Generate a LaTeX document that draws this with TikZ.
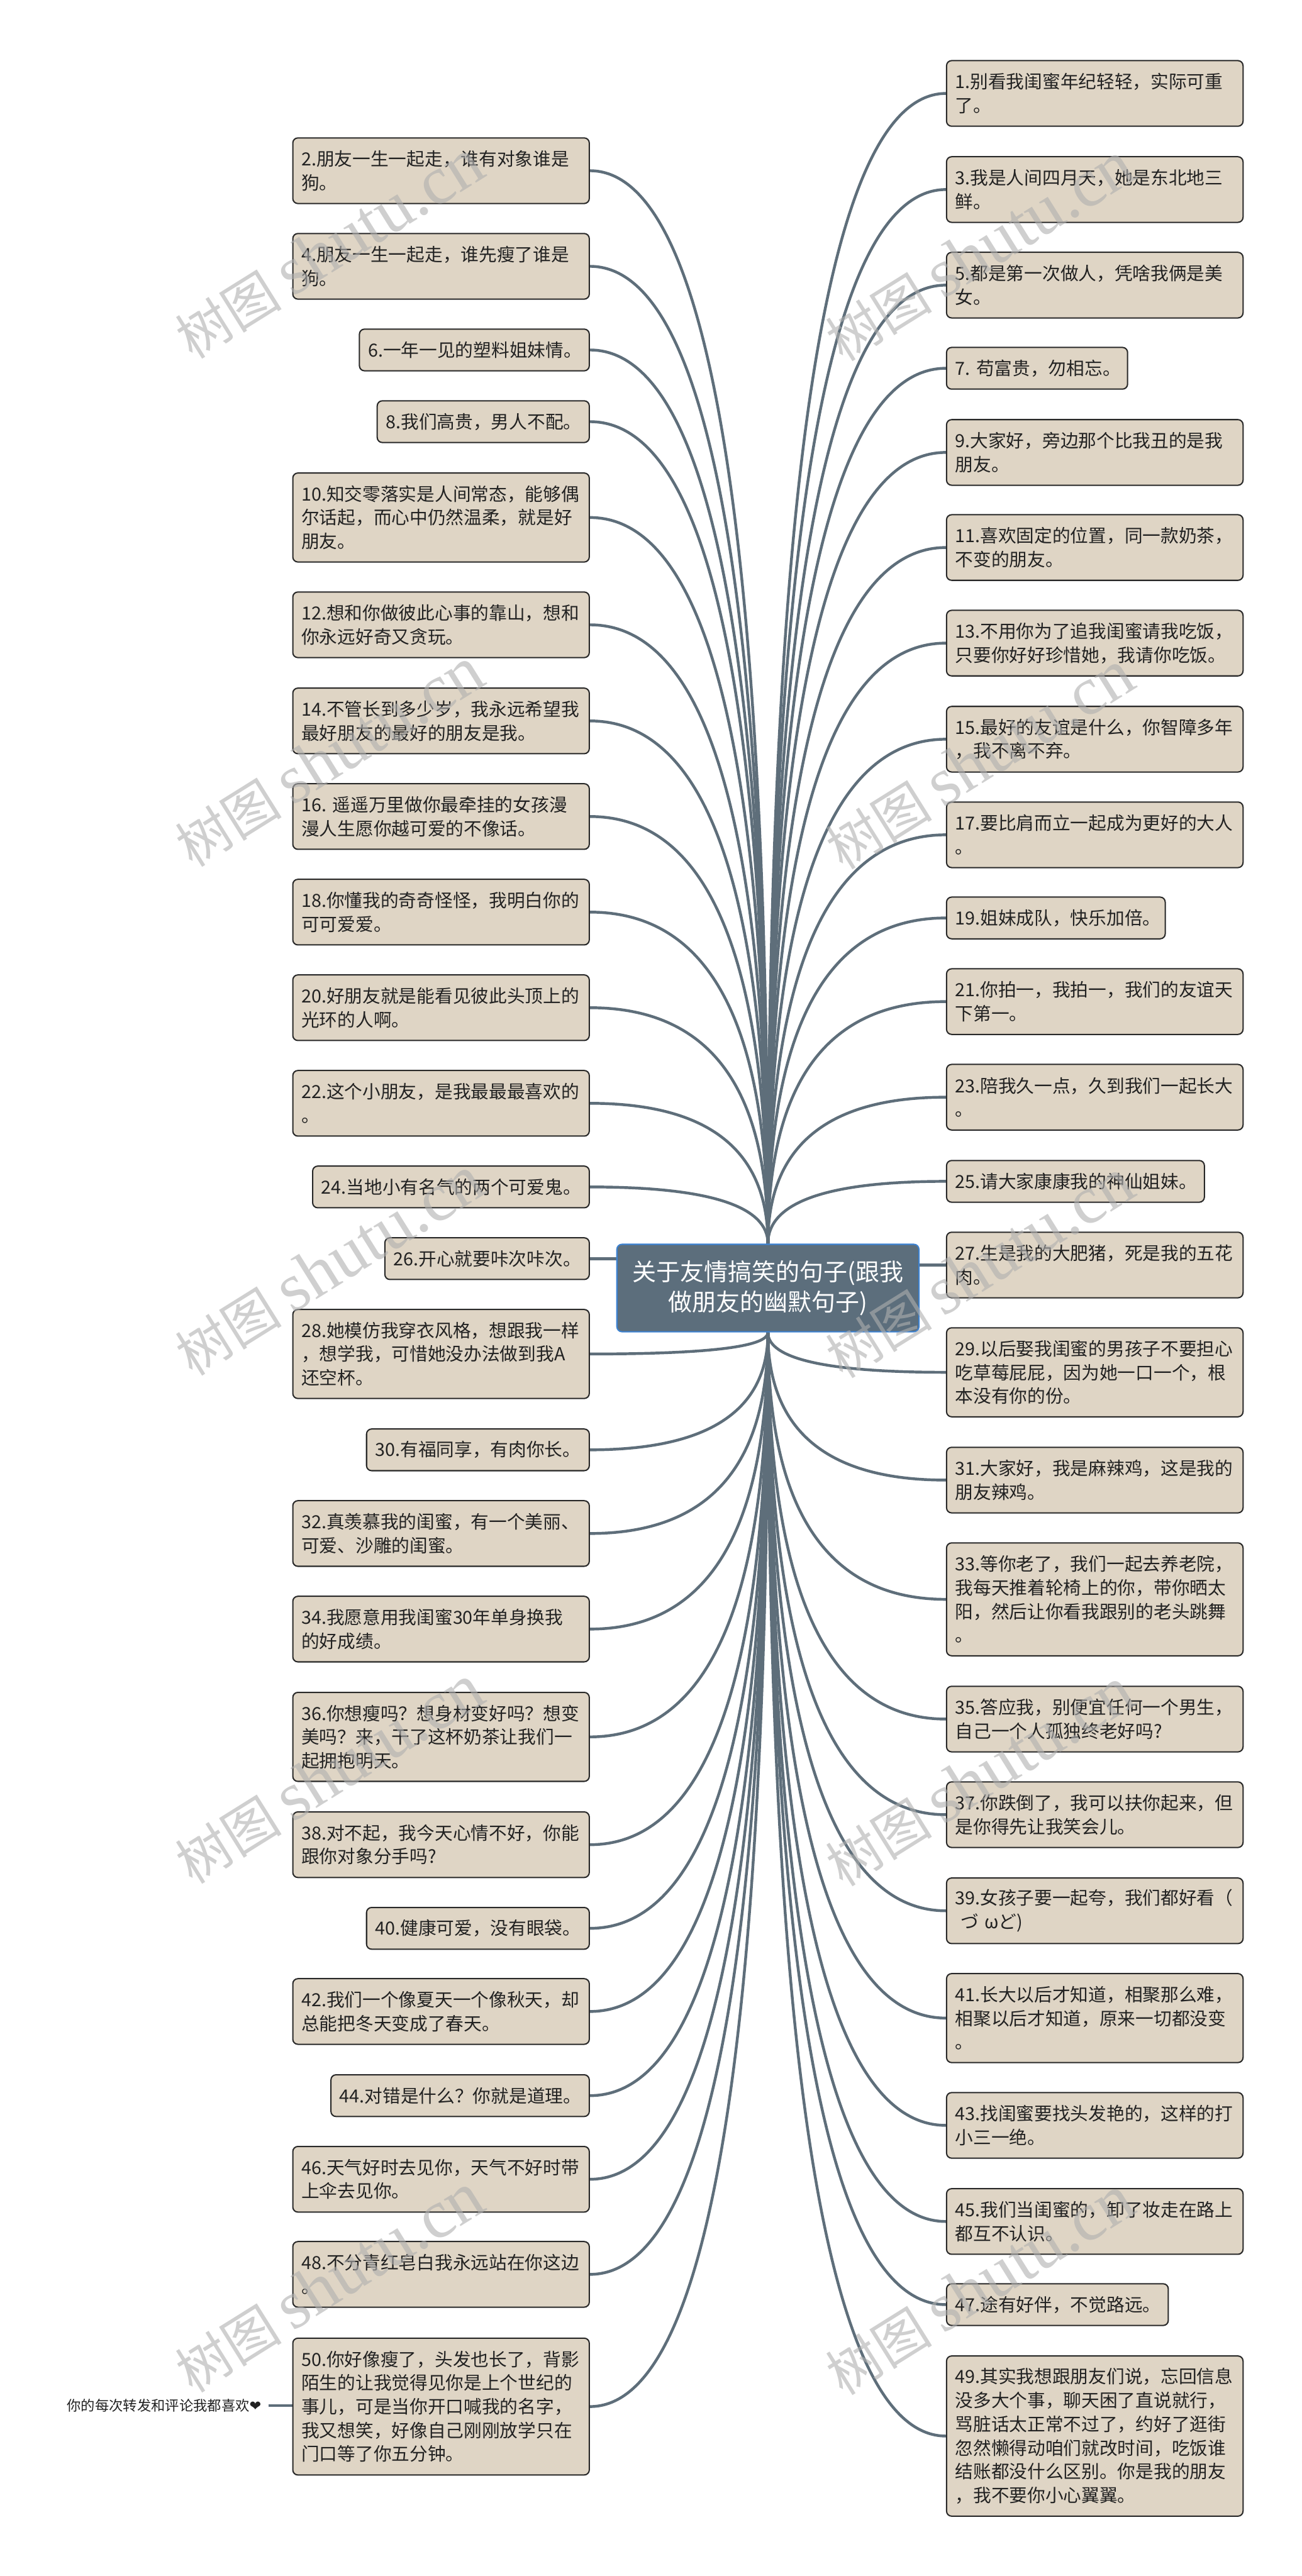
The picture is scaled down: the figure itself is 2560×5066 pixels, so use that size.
\documentclass[tikz,border=0pt]{standalone}
\usepackage{fontspec}
\setmainfont{Noto Sans CJK SC}
\newfontfamily\heartfont{DejaVu Sans}
\newfontfamily\wmlat{Liberation Serif}
\newfontfamily\wmcjk{Noto Sans CJK SC}
\usetikzlibrary{calc,backgrounds}
\definecolor{boxfill}{RGB}{223,213,197}
\definecolor{boxline}{RGB}{40,40,40}
\definecolor{conncol}{RGB}{94,110,122}
\definecolor{ctrfill}{RGB}{92,110,124}
\definecolor{ctrline}{RGB}{60,130,210}
\definecolor{txtcol}{RGB}{34,34,34}
\definecolor{wmcol}{RGB}{175,175,175}
\tikzset{
 bx/.style={draw=boxline, line width=2.5pt, fill=boxfill, rounded corners=10pt,
   inner xsep=17pt, inner ysep=0pt, align=left, text=txtcol,
   font=\fontsize{35.5}{46.6}\selectfont},
 conn/.style={draw=conncol, line width=5.5pt},
 ctr/.style={draw=ctrline, line width=2.5pt, fill=ctrfill, rounded corners=10pt,
   minimum width=594pt, minimum height=172pt, text=white, align=center,
   inner sep=0pt, font=\fontsize{47}{60}\selectfont},
 wm/.style={rotate=32, text=wmcol, text opacity=0.6, inner sep=0pt}
}
\newcommand\LB[5]{\node[bx, anchor=north east, minimum width=#3pt, text width=#3pt-34pt, minimum height=#4pt] (#1) at (1160,#2) {#5};}
\newcommand\RB[5]{\node[bx, anchor=north west, minimum width=#3pt, text width=#3pt-34pt, minimum height=#4pt] (#1) at (1860,#2) {#5};}
\newcommand\conup[1]{\draw[conn] (#1) .. controls ($(#1)!0.6667!(#1 -| C.north)$) and ($(C.north)!0.6667!(#1 -| C.north)$) .. (C.north);}
\newcommand\condn[1]{\draw[conn] (#1) .. controls ($(#1)!0.6667!(#1 -| C.south)$) and ($(C.south)!0.6667!(#1 -| C.south)$) .. (C.south);}
\begin{document}
\begin{tikzpicture}[x=1pt,y=-1pt]
\begin{pgfonlayer}{background}
\fill[white] (0,0) rectangle (2560,5066);
\end{pgfonlayer}
\useasboundingbox (0,0) rectangle (2560,5066);

\node[ctr] (C) at (1510,2533) {关于友情搞笑的句子(跟我\\做朋友的幽默句子)};

% left column
\LB{L2}{270}{583}{129}{2.朋友一生一起走，谁有对象谁是\\狗。}
\LB{L4}{458}{583}{129}{4.朋友一生一起走，谁先瘦了谁是\\狗。}
\LB{L6}{646}{452}{82}{6.一年一见的塑料姐妹情。}
\LB{L8}{787}{417}{82}{8.我们高贵，男人不配。}
\LB{L10}{929}{583}{175}{10.知交零落实是人间常态，能够偶\\尔话起，而心中仍然温柔，就是好\\朋友。}
\LB{L12}{1163}{583}{129}{12.想和你做彼此心事的靠山，想和\\你永远好奇又贪玩。}
\LB{L14}{1352}{583}{129}{14.不管长到多少岁，我永远希望我\\最好朋友的最好的朋友是我。}
\LB{L16}{1540}{583}{129}{16.~遥遥万里做你最牵挂的女孩漫\\漫人生愿你越可爱的不像话。}
\LB{L18}{1728}{583}{129}{18.你懂我的奇奇怪怪，我明白你的\\可可爱爱。}
\LB{L20}{1916}{583}{129}{20.好朋友就是能看见彼此头顶上的\\光环的人啊。}
\LB{L22}{2104}{583}{129}{22.这个小朋友，是我最最最喜欢的\\。}
\LB{L24}{2292}{544}{82}{24.当地小有名气的两个可爱鬼。}
\LB{L26}{2433}{402}{82}{26.开心就要咔次咔次。}
\LB{L28}{2574}{583}{175}{28.她模仿我穿衣风格，想跟我一样\\，想学我，可惜她没办法做到我A\\还空杯。}
\LB{L30}{2809}{438}{82}{30.有福同享，有肉你长。}
\LB{L32}{2950}{583}{129}{32.真羡慕我的闺蜜，有一个美丽、\\可爱、沙雕的闺蜜。}
\LB{L34}{3138}{583}{129}{34.我愿意用我闺蜜30年单身换我\\的好成绩。}
\LB{L36}{3327}{583}{175}{36.你想瘦吗？想身材变好吗？想变\\美吗？来，干了这杯奶茶让我们一\\起拥抱明天。}
\LB{L38}{3562}{583}{129}{38.对不起，我今天心情不好，你能\\跟你对象分手吗?}
\LB{L40}{3750}{438}{82}{40.健康可爱，没有眼袋。}
\LB{L42}{3890}{583}{129}{42.我们一个像夏天一个像秋天，却\\总能把冬天变成了春天。}
\LB{L44}{4079}{508}{82}{44.对错是什么？你就是道理。}
\LB{L46}{4220}{583}{129}{46.天气好时去见你，天气不好时带\\上伞去见你。}
\LB{L48}{4407}{583}{129}{48.不分青红皂白我永远站在你这边\\。}
\LB{L50}{4597}{583}{269}{50.你好像瘦了，头发也长了，背影\\陌生的让我觉得见你是上个世纪的\\事儿，可是当你开口喊我的名字，\\我又想笑，好像自己刚刚放学只在\\门口等了你五分钟。}

% right column
\RB{R1}{118}{583}{129}{1.别看我闺蜜年纪轻轻，实际可重\\了。}
\RB{R3}{307}{583}{129}{3.我是人间四月天，她是东北地三\\鲜。}
\RB{R5}{495}{583}{129}{5.都是第一次做人，凭啥我俩是美\\女。}
\RB{R7}{682}{356}{82}{7.~苟富贵，勿相忘。}
\RB{R9}{824}{583}{129}{9.大家好，旁边那个比我丑的是我\\朋友。}
\RB{R11}{1011}{583}{129}{11.喜欢固定的位置，同一款奶茶，\\不变的朋友。}
\RB{R13}{1199}{583}{129}{13.不用你为了追我闺蜜请我吃饭，\\只要你好好珍惜她，我请你吃饭。}
\RB{R15}{1388}{583}{129}{15.最好的友谊是什么，你智障多年\\，我不离不弃。}
\RB{R17}{1576}{583}{129}{17.要比肩而立一起成为更好的大人\\。}
\RB{R19}{1763}{430}{82}{19.姐妹成队，快乐加倍。}
\RB{R21}{1904}{583}{129}{21.你拍一，我拍一，我们的友谊天\\下第一。}
\RB{R23}{2092}{583}{129}{23.陪我久一点，久到我们一起长大\\。}
\RB{R25}{2281}{507}{82}{25.请大家康康我的神仙姐妹。}
\RB{R27}{2422}{583}{129}{27.生是我的大肥猪，死是我的五花\\肉。}
\RB{R29}{2610}{583}{175}{29.以后娶我闺蜜的男孩子不要担心\\吃草莓屁屁，因为她一口一个，根\\本没有你的份。}
\RB{R31}{2845}{583}{129}{31.大家好，我是麻辣鸡，这是我的\\朋友辣鸡。}
\RB{R33}{3033}{583}{222}{33.等你老了，我们一起去养老院，\\我每天推着轮椅上的你，带你晒太\\阳，然后让你看我跟别的老头跳舞\\。}
\RB{R35}{3315}{583}{129}{35.答应我，别便宜任何一个男生，\\自己一个人孤独终老好吗?}
\RB{R37}{3503}{583}{129}{37.你跌倒了，我可以扶你起来，但\\是你得先让我笑会儿。}
\RB{R39}{3692}{583}{129}{39.女孩子要一起夸，我们都好看（\\\hspace*{0.3em}づ~ωど)}
\RB{R41}{3880}{583}{175}{41.长大以后才知道，相聚那么难，\\相聚以后才知道，原来一切都没变\\。}
\RB{R43}{4114}{583}{129}{43.找闺蜜要找头发艳的，这样的打\\小三一绝。}
\RB{R45}{4303}{583}{129}{45.我们当闺蜜的，卸了妆走在路上\\都互不认识。}
\RB{R47}{4490}{436}{82}{47.途有好伴，不觉路远。}
\RB{R49}{4632}{583}{315}{49.其实我想跟朋友们说，忘回信息\\没多大个事，聊天困了直说就行，\\骂脏话太正常不过了，约好了逛街\\忽然懒得动咱们就改时间，吃饭谁\\结账都没什么区别。你是我的朋友\\，我不要你小心翼翼。}

% footnote child of 50
\node[font=\fontsize{27.6}{33}\selectfont, text=txtcol, anchor=east, inner xsep=14pt, inner ysep=0pt] (F) at (528,4731) {你的每次转发和评论我都喜欢{\heartfont ❤}};

\begin{pgfonlayer}{background}
\foreach \n in {L2,L4,L6,L8,L10,L12,L14,L16,L18,L20,L22,L24} {\conup{\n.east}}
\foreach \n in {R1,R3,R5,R7,R9,R11,R13,R15,R17,R19,R21,R23,R25} {\conup{\n.west}}
\foreach \n in {L28,L30,L32,L34,L36,L38,L40,L42,L44,L46,L48,L50} {\condn{\n.east}}
\foreach \n in {R29,R31,R33,R35,R37,R39,R41,R43,R45,R47,R49} {\condn{\n.west}}
\draw[conn] (L26.east) -- (L26.east -| C.west);
\draw[conn] (R27.west) -- (R27.west -| C.east);
\draw[conn] (F.east) -- (F.east -| L50.west);
\end{pgfonlayer}

% watermarks
\foreach \k in {0,...,4} {
  \node[wm] at (647,{490+1000*\k}) {{\wmcjk\fontsize{105}{105}\selectfont 树图}\hspace{22pt}{\wmlat\fontsize{135}{135}\selectfont shutu.cn}};
  \node[wm] at (1926,{495+1000*\k}) {{\wmcjk\fontsize{105}{105}\selectfont 树图}\hspace{22pt}{\wmlat\fontsize{135}{135}\selectfont shutu.cn}};
}
\end{tikzpicture}
\end{document}
